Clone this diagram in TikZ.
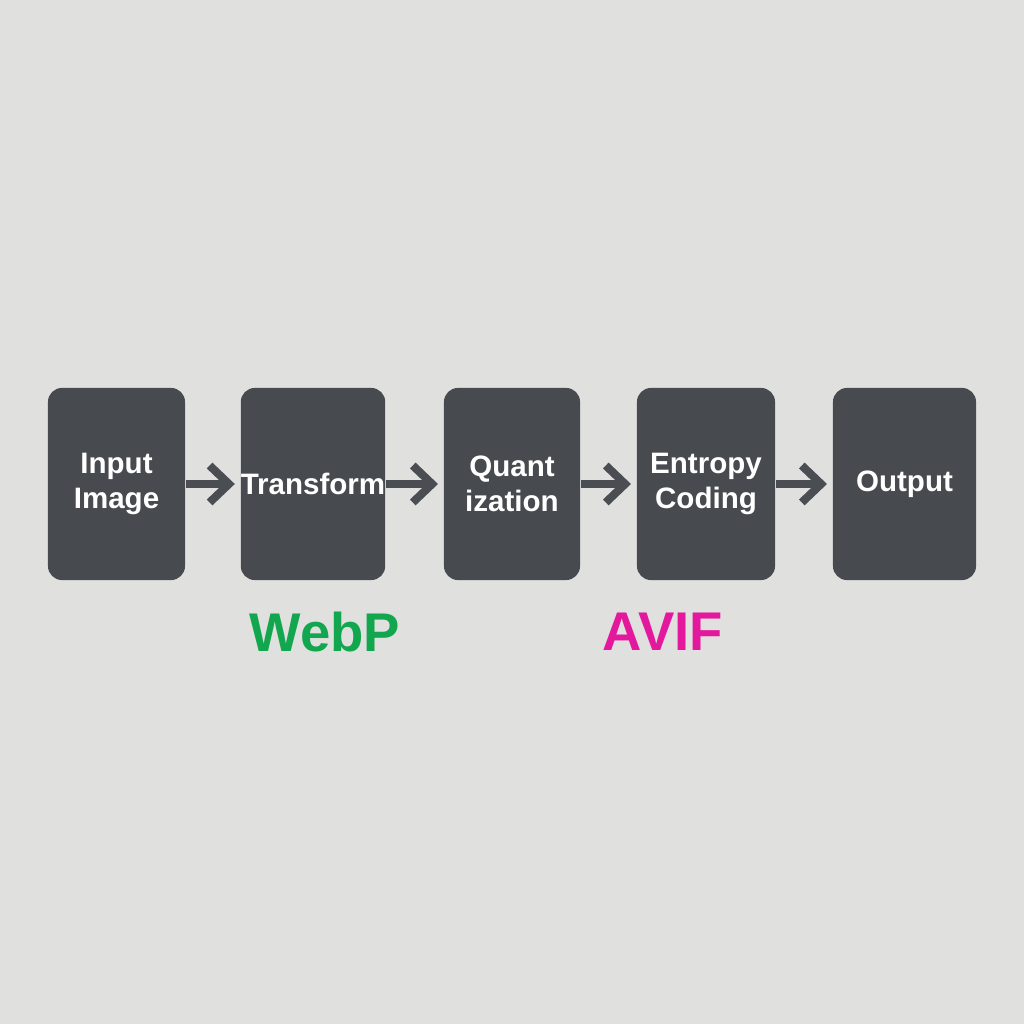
\documentclass[tikz,border=0pt]{standalone}
\usepackage{fontspec}
\setmainfont{Liberation Sans}
\definecolor{PBack}{HTML}{E0E0DF}
\definecolor{PBox}{HTML}{474A4E}
\definecolor{PArrow}{HTML}{4A4D51}
\definecolor{PWebp}{HTML}{12A64F}
\definecolor{PAvif}{HTML}{E4189C}
\usepackage{tikz}
\usetikzlibrary{arrows.meta,positioning}

\begin{document}
\begin{tikzpicture}[x=0.01cm,y=0.01cm,
    stage/.style={fill=PBox,rounded corners=0.14cm,minimum height=1.92cm,
      inner sep=0pt,text=white,align=center,
      font=\fontsize{8.4}{9.9}\selectfont\bfseries},
    flow/.style={PArrow,line width=2.3pt,shorten >=1.5pt,
      -{Straight Barb[length=5.5pt,width=10.5pt]}},
    codec/.style={font=\fontsize{15.5}{18}\selectfont\bfseries}]
    % background
    \fill[PBack] (0,0) rectangle (1024,1024);
    % pipeline stages
    \node[stage,minimum width=1.37cm] (input) at (116.5,540) {Input\\Image};
    \node[stage,minimum width=1.40cm] (trans) at (313,540) {Transform};
    \node[stage,minimum width=1.36cm] (quant) at (512,540) {Quant\\ization};
    \node[stage,minimum width=1.38cm] (entropy) at (706,540) {Entropy\\Coding};
    \node[stage,minimum width=1.43cm] (output) at (904.5,540) {Output};
    % arrows
    \draw[flow] (input) -- (trans);
    \draw[flow] (trans) -- (quant);
    \draw[flow] (quant) -- (entropy);
    \draw[flow] (entropy) -- (output);
    % codec labels
    \node[codec,text=PWebp] (webp) at (325,392) {WebP};
    \node[codec,text=PAvif] (avif) at (663,392) {AVIF};
\end{tikzpicture}
\end{document}
